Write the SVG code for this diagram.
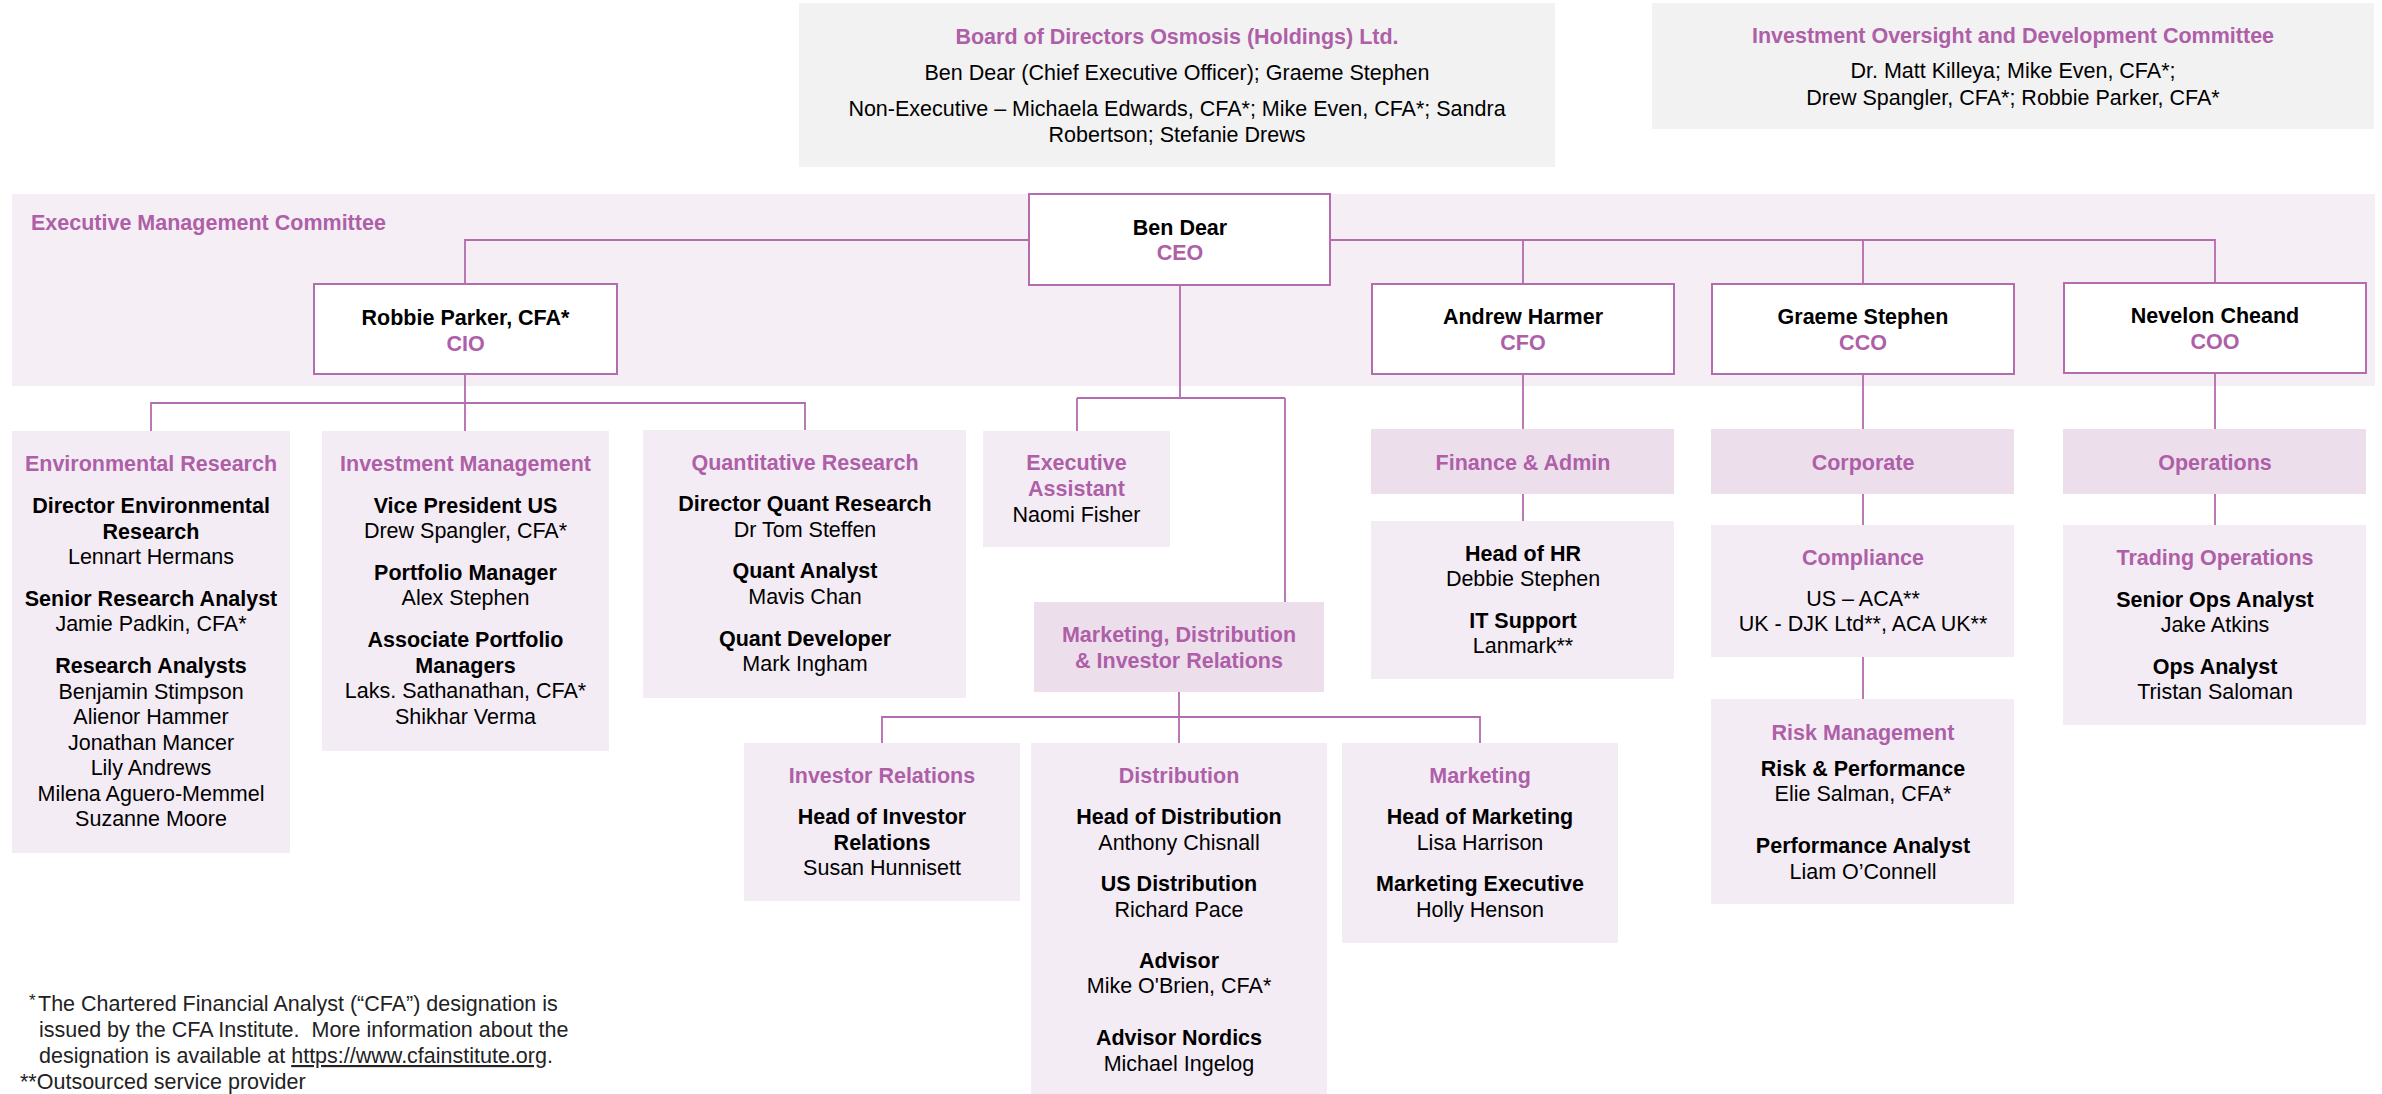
<svg xmlns="http://www.w3.org/2000/svg" width="2382" height="1094" viewBox="0 0 2382 1094">
<style>
text{font-family:"Liberation Sans",Arial,sans-serif;font-size:21.5px;fill:#000;text-anchor:middle}
.b{font-weight:bold}
.p{font-weight:bold;fill:#AE5FA8}
.l{text-anchor:start}
.f{fill:#222}
.bw{fill:#fff;stroke:#B36CAE;stroke-width:2}
.bl{fill:#F4ECF4}
.bh{fill:#EDDEEC}
.bg{fill:#F2F2F2}
.conn path{fill:none;stroke:#B36CAE;stroke-width:1.8}
</style>
<rect width="2382" height="1094" fill="#fff"/>

<g id="board">
<rect class="bg" x="799" y="3" width="756" height="164"/>
<text class="p" x="1177" y="44">Board of Directors Osmosis (Holdings) Ltd.</text>
<text x="1177" y="80">Ben Dear (Chief Executive Officer); Graeme Stephen</text>
<text x="1177" y="116">Non-Executive – Michaela Edwards, CFA*; Mike Even, CFA*; Sandra</text>
<text x="1177" y="142">Robertson; Stefanie Drews</text>
</g>

<g id="iodc">
<rect class="bg" x="1652" y="3" width="722" height="126"/>
<text class="p" x="2013" y="43">Investment Oversight and Development Committee</text>
<text x="2013" y="78">Dr. Matt Killeya; Mike Even, CFA*;</text>
<text x="2013" y="105">Drew Spangler, CFA*; Robbie Parker, CFA*</text>
</g>

<g id="exec-committee">
<rect fill="#F5EEF5" x="12" y="194" width="2363" height="192"/>
<text class="p l" x="31" y="230">Executive Management Committee</text>
</g>

<g class="conn" id="connectors">
<path d="M1029,240H465V284"/>
<path d="M1330,240H2215V284M1523,240V284M1863,240V284"/>
<path d="M1180,285V398M1077,398H1285M1077,398V431M1285,398V602"/>
<path d="M465,374V431M151,431V403H805V430"/>
<path d="M1523,374V429M1523,494V521"/>
<path d="M1863,374V429M1863,494V525M1863,657V699"/>
<path d="M2215,374V429M2215,494V525"/>
<path d="M1179,692V743M882,743V717H1480V743"/>
</g>

<g id="ceo">
<rect class="bw" x="1029" y="194" width="301" height="91"/>
<text class="b" x="1180" y="235">Ben Dear</text>
<text class="p" x="1180" y="260">CEO</text>
</g>
<g id="cio">
<rect class="bw" x="314" y="284" width="303" height="90"/>
<text class="b" x="465.5" y="325">Robbie Parker, CFA*</text>
<text class="p" x="465.5" y="351">CIO</text>
</g>
<g id="cfo">
<rect class="bw" x="1372" y="284" width="302" height="90"/>
<text class="b" x="1523" y="324">Andrew Harmer</text>
<text class="p" x="1523" y="350">CFO</text>
</g>
<g id="cco">
<rect class="bw" x="1712" y="284" width="302" height="90"/>
<text class="b" x="1863" y="324">Graeme Stephen</text>
<text class="p" x="1863" y="350">CCO</text>
</g>
<g id="coo">
<rect class="bw" x="2064" y="283" width="302" height="90"/>
<text class="b" x="2215" y="323">Nevelon Cheand</text>
<text class="p" x="2215" y="349">COO</text>
</g>

<g id="environmental-research">
<rect class="bl" x="12" y="431" width="278" height="422"/>
<text class="p" x="151" y="471">Environmental Research</text>
<text class="b" x="151" y="513">Director Environmental</text>
<text class="b" x="151" y="538.5">Research</text>
<text x="151" y="564">Lennart Hermans</text>
<text class="b" x="151" y="606">Senior Research Analyst</text>
<text x="151" y="631">Jamie Padkin, CFA*</text>
<text class="b" x="151" y="673">Research Analysts</text>
<text x="151" y="698.5">Benjamin Stimpson</text>
<text x="151" y="724">Alienor Hammer</text>
<text x="151" y="749.5">Jonathan Mancer</text>
<text x="151" y="775">Lily Andrews</text>
<text x="151" y="800.5">Milena Aguero-Memmel</text>
<text x="151" y="826">Suzanne Moore</text>
</g>

<g id="investment-management">
<rect class="bl" x="322" y="431" width="287" height="320"/>
<text class="p" x="465.5" y="471">Investment Management</text>
<text class="b" x="465.5" y="513">Vice President US</text>
<text x="465.5" y="538">Drew Spangler, CFA*</text>
<text class="b" x="465.5" y="580">Portfolio Manager</text>
<text x="465.5" y="605">Alex Stephen</text>
<text class="b" x="465.5" y="647">Associate Portfolio</text>
<text class="b" x="465.5" y="673">Managers</text>
<text x="465.5" y="698">Laks. Sathanathan, CFA*</text>
<text x="465.5" y="724">Shikhar Verma</text>
</g>

<g id="quantitative-research">
<rect class="bl" x="643" y="430" width="323" height="268"/>
<text class="p" x="805" y="470">Quantitative Research</text>
<text class="b" x="805" y="511">Director Quant Research</text>
<text x="805" y="537">Dr Tom Steffen</text>
<text class="b" x="805" y="578">Quant Analyst</text>
<text x="805" y="604">Mavis Chan</text>
<text class="b" x="805" y="646">Quant Developer</text>
<text x="805" y="671">Mark Ingham</text>
</g>

<g id="executive-assistant">
<rect class="bl" x="983" y="431" width="187" height="116"/>
<text class="p" x="1076.5" y="470">Executive</text>
<text class="p" x="1076.5" y="496">Assistant</text>
<text x="1076.5" y="522">Naomi Fisher</text>
</g>

<g id="marketing-distribution-ir">
<rect class="bh" x="1034" y="602" width="290" height="90"/>
<text class="p" x="1179" y="642">Marketing, Distribution</text>
<text class="p" x="1179" y="668">&amp; Investor Relations</text>
</g>

<g id="investor-relations">
<rect class="bl" x="744" y="743" width="276" height="158"/>
<text class="p" x="882" y="783">Investor Relations</text>
<text class="b" x="882" y="824">Head of Investor</text>
<text class="b" x="882" y="850">Relations</text>
<text x="882" y="875">Susan Hunnisett</text>
</g>

<g id="distribution">
<rect class="bl" x="1031" y="743" width="296" height="351"/>
<text class="p" x="1179" y="783">Distribution</text>
<text class="b" x="1179" y="824">Head of Distribution</text>
<text x="1179" y="850">Anthony Chisnall</text>
<text class="b" x="1179" y="891">US Distribution</text>
<text x="1179" y="917">Richard Pace</text>
<text class="b" x="1179" y="968">Advisor</text>
<text x="1179" y="993">Mike O'Brien, CFA*</text>
<text class="b" x="1179" y="1045">Advisor Nordics</text>
<text x="1179" y="1071">Michael Ingelog</text>
</g>

<g id="marketing">
<rect class="bl" x="1342" y="743" width="276" height="200"/>
<text class="p" x="1480" y="783">Marketing</text>
<text class="b" x="1480" y="824">Head of Marketing</text>
<text x="1480" y="850">Lisa Harrison</text>
<text class="b" x="1480" y="891">Marketing Executive</text>
<text x="1480" y="917">Holly Henson</text>
</g>

<g id="finance-admin">
<rect class="bh" x="1371" y="429" width="303" height="65"/>
<text class="p" x="1523" y="470">Finance &amp; Admin</text>
</g>
<g id="hr-it">
<rect class="bl" x="1371" y="521" width="303" height="158"/>
<text class="b" x="1523" y="561">Head of HR</text>
<text x="1523" y="586">Debbie Stephen</text>
<text class="b" x="1523" y="628">IT Support</text>
<text x="1523" y="653">Lanmark**</text>
</g>

<g id="corporate">
<rect class="bh" x="1711" y="429" width="303" height="65"/>
<text class="p" x="1863" y="470">Corporate</text>
</g>
<g id="compliance">
<rect class="bl" x="1711" y="525" width="303" height="132"/>
<text class="p" x="1863" y="565">Compliance</text>
<text x="1863" y="606">US – ACA**</text>
<text x="1863" y="631">UK - DJK Ltd**, ACA UK**</text>
</g>
<g id="risk-management">
<rect class="bl" x="1711" y="699" width="303" height="205"/>
<text class="p" x="1863" y="740">Risk Management</text>
<text class="b" x="1863" y="776">Risk &amp; Performance</text>
<text x="1863" y="801">Elie Salman, CFA*</text>
<text class="b" x="1863" y="853">Performance Analyst</text>
<text x="1863" y="879">Liam O’Connell</text>
</g>

<g id="operations">
<rect class="bh" x="2063" y="429" width="303" height="65"/>
<text class="p" x="2215" y="470">Operations</text>
</g>
<g id="trading-operations">
<rect class="bl" x="2063" y="525" width="303" height="200"/>
<text class="p" x="2215" y="565">Trading Operations</text>
<text class="b" x="2215" y="607">Senior Ops Analyst</text>
<text x="2215" y="632">Jake Atkins</text>
<text class="b" x="2215" y="674">Ops Analyst</text>
<text x="2215" y="699">Tristan Saloman</text>
</g>

<g id="footnotes">
<text class="l f" x="29" y="1006" style="font-size:17px">*</text>
<text class="l f" x="38" y="1011">The Chartered Financial Analyst (“CFA”) designation is</text>
<text class="l f" x="39" y="1037" xml:space="preserve">issued by the CFA Institute.  More information about the</text>
<text class="l f" x="39" y="1063">designation is available at <tspan text-decoration="underline">https://www.cfainstitute.org</tspan>.</text>
<text class="l f" x="20" y="1089">**Outsourced service provider</text>
</g>
</svg>
